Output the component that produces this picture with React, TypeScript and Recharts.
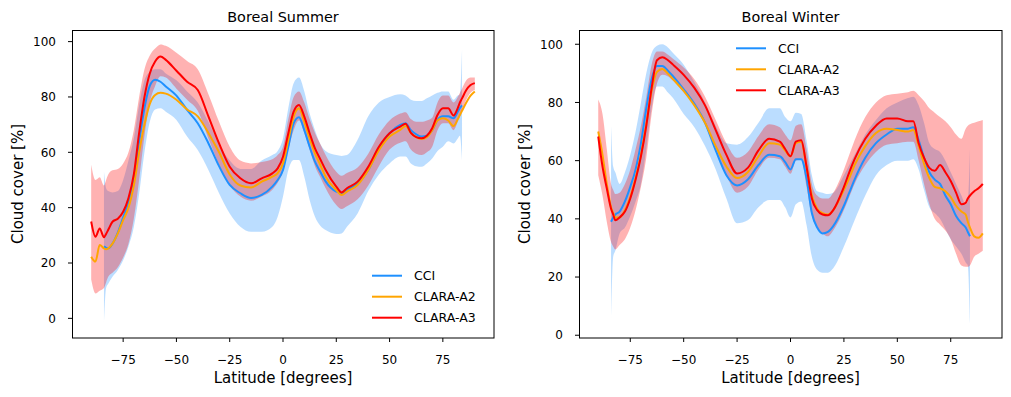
import React from 'react';
import { ComposedChart, Line, Area, XAxis, YAxis } from 'recharts';

// latitude grid shared by both panels
const LAT = [
  -90, -88, -86, -84, -83, -82, -80, -77.5, -75, -72.5,
  -70, -67.5, -65, -62.5, -60, -57.5, -55, -50, -45, -40,
  -35, -30, -25, -20, -15, -10, -5, -2.5, 0, 2.5,
  5, 7.5, 10, 12.5, 15, 17.5, 20, 25, 27.5, 30,
  35, 40, 45, 50, 55, 57.5, 60, 62.5, 65, 67.5,
  70, 72.5, 75, 77.5, 80, 82, 83, 84, 86, 88, 90,
];

// Boreal summer
const SUM_CCI = [
  null, null, null, 26, 25.5, 25.3, 27, 31, 36.5, 42,
  50, 64, 76, 84, 86.2, 85.5, 83.8, 80.5, 75.3, 70.5,
  63.3, 55, 48.2, 45.2, 43.5, 44.6, 47.6, 50, 53.6, 62,
  70.5, 72.7, 68, 62, 56.6, 53, 49.5, 45.8, 45.3, 46.4,
  48.8, 53.6, 61.4, 66.9, 69.9, 70.5, 68, 66.5, 65.7, 66,
  68, 71.7, 73, 73, 72.3, 74.7, 76, 77, null, null, null,
];
const SUM_A2 = [
  22.3, 20.5, 26.5, 25.3, 25, 25.3, 27, 30.7, 35.5, 40,
  48, 60, 70, 77.5, 80.7, 81.5, 81.2, 79, 75.5, 73,
  67, 60, 52, 48, 47.3, 49.4, 51.2, 52.5, 56, 64.4,
  72.9, 75.9, 71, 65, 59.6, 55.5, 51.2, 46.4, 44.6, 45.8,
  48.2, 53.6, 60.8, 65.7, 68.1, 69.5, 67, 65.5, 64.8, 65.5,
  68, 71.5, 72.3, 71.5, 69.5, 72, 73.5, 75, 78, 80.5, 82,
];
const SUM_A3 = [
  35, 29.5, 32.5, 29.3, 30.5, 32, 34.9, 36, 38.5, 43.5,
  52, 67, 80, 88.5, 92.8, 94.6, 93.4, 89.5, 85.5, 82.5,
  73, 63.2, 54.8, 50.6, 48.8, 50.6, 52.4, 54.2, 58.4, 66.9,
  74.7, 77.1, 72.9, 66.9, 61.4, 57.5, 53.6, 47.6, 45.5, 47,
  49.4, 54.8, 62, 66.9, 69.3, 70.3, 67, 65.5, 65.1, 66,
  68.7, 73.5, 75.9, 75.9, 73.3, 76, 78, 79.5, 82.5, 84.3, 85,
];
const SUM_CCI_LO = [
  null, null, null, -2, 11, 12.5, 15, 17.5, 21, 26,
  33, 45, 60, 71, 75.5, 75.9, 74.7, 71.7, 65.7, 60.8,
  53.6, 45.2, 37.9, 33.1, 31.3, 31.3, 33.1, 36.7, 44, 53.6,
  57.2, 57.2, 51.2, 42.8, 36.7, 33.5, 31.9, 30.5, 30.7, 33.1,
  37.9, 46, 52, 56, 58.5, 58.5, 56, 55, 54.8, 56,
  57.8, 60.5, 62, 64, 63.2, 65, 66, 57, null, null, null,
];
const SUM_CCI_HI = [
  null, null, null, 53, 47, 46, 45.5, 46, 50, 57,
  65, 77, 86, 89, 90, 90, 88.5, 86, 82, 78,
  71, 63, 57, 54, 54, 57, 59, 60.5, 65, 76,
  85, 87, 82, 74, 68, 63, 60.5, 59, 58.7, 59,
  64.5, 73, 78, 80, 81, 80.5, 79, 78.5, 78.5, 79.5,
  80.5, 81.5, 82, 82, 79, 80.5, 81, 97, null, null, null,
];
const SUM_A3_LO = [
  14, 9, 10, 11, 13, 15, 16.5, 18.5, 22, 27,
  36, 50, 66, 78, 84, 87.5, 87, 83, 79, 75,
  65, 55.5, 48, 44, 42.5, 44, 46.5, 49, 53, 61,
  68, 71.5, 67, 61, 55, 51, 47, 41, 39.5, 40.5,
  43, 48, 55, 61, 63.5, 64, 61, 59.5, 59, 60,
  62, 68, 70.5, 70.5, 68, 71, 73, 75, 79, 81.5, 82.5,
];
const SUM_A3_HI = [
  55.5, 50, 51, 48, 50, 52, 53.5, 54, 56, 60,
  68, 80, 90, 95, 97.5, 99, 98.5, 96, 93, 90,
  81, 71, 62, 57, 56, 56.5, 57.5, 59, 62, 72,
  80, 82, 78, 72, 67, 63, 59, 53, 51.5, 52.5,
  54.5, 59.5, 66.5, 71.5, 74, 74.5, 72, 71, 71, 71.5,
  72.5, 78, 80.5, 80.5, 78, 80, 81.5, 83, 86, 87, 87,
];

// Boreal winter
const WIN_CCI = [
  null, null, null, 39, 40.5, 41.5, 42.5, 46, 51, 57,
  66, 78, 88, 92.5, 92.5, 91, 89, 84.5, 79.5, 73,
  63.5, 55, 51.5, 53.5, 58.5, 62, 61.5, 59.5, 57, 60.5,
  60.5, 54, 42, 37, 35, 35.5, 37.5, 44.5, 49, 53.5,
  61, 66, 69, 71, 71, 71.5, 67, 61, 56, 53.5,
  52, 48, 45, 41, 38.5, 37, 35.5, 34, null, null, null,
];
const WIN_A2 = [
  70, 62, 52, 44, 42, 40.5, 40.5, 43, 47.5, 54,
  62, 72.5, 84, 90.5, 91.5, 90, 88, 84, 79, 73,
  65, 58, 54, 56, 61.5, 66, 65.5, 63.5, 61.5, 66,
  66.5, 58, 48, 43.5, 42, 41.5, 43, 50, 54, 58.5,
  65, 69.5, 71, 70.5, 70, 70.5, 65, 59, 54, 51,
  50.5, 49.5, 47.5, 44.5, 42.5, 41.5, 39, 37, 34, 33.5, 35,
];
const WIN_A3 = [
  68.3, 58, 50.5, 43.5, 41.5, 39.5, 40.5, 42.5, 47, 53.5,
  61.5, 72, 85, 94.5, 95.5, 94.6, 93, 89.5, 85, 79,
  70.5, 62, 55.6, 57.5, 63.5, 67.5, 66.5, 64, 61.5, 66.5,
  67, 58, 47, 43, 41.5, 41.2, 43, 51, 56, 60.5,
  67.5, 72, 74.5, 74.5, 73.5, 73.5, 66, 61, 57.5, 56.5,
  58.5, 56, 53, 49, 45, 45.5, 47, 48, 49.5, 50.5, 52,
];
const WIN_CCI_LO = [
  null, null, null, 5, 27, 29, 35, 37, 41, 46,
  52, 64, 78, 85.5, 85.5, 83.5, 81.5, 76, 71.5, 65,
  57, 47, 38.5, 39.5, 44, 46.5, 46.5, 44, 40.5, 45,
  46, 38, 27, 22.5, 21.5, 21.5, 23, 30.5, 35, 39.5,
  48, 55, 58.5, 60, 60, 60.5, 57, 50, 44, 42,
  40, 36.5, 33, 30.5, 28, 25, 24, 4, null, null, null,
];
const WIN_CCI_HI = [
  null, null, null, 72, 58, 56, 52, 56, 62, 70,
  80, 90, 97, 99.5, 100, 99, 97, 93, 87, 80,
  72, 66, 65.5, 68, 73, 78, 78, 75, 73.5, 76.5,
  76, 67, 55, 49.5, 49, 48.5, 49, 55, 58.5, 62,
  69, 74, 78, 80, 81.5, 82, 79, 73, 66, 64,
  63, 60, 56, 52, 48, 45, 46, 64, null, null, null,
];
const WIN_A3_LO = [
  55, 48, 39, 32, 30.5, 29.5, 31, 33, 37, 43,
  51, 61, 76, 86.5, 89.5, 89, 87.5, 83.5, 79, 73,
  64, 55, 49, 51, 57, 61, 60.5, 58, 55.5, 60,
  60.5, 51, 41, 37, 35, 34, 36, 43, 47.5, 52,
  58.5, 63, 65.5, 66, 66.5, 66.5, 60, 52, 45, 40,
  38, 36, 33, 28, 24, 23.5, 23.5, 24, 27, 28, 29,
];
const WIN_A3_HI = [
  81, 76, 64, 52, 50, 48.5, 49, 52, 57, 64,
  72, 82, 93, 97.5, 97.5, 96.5, 95, 92, 88, 82,
  74, 66, 61, 63, 68.5, 72.5, 71.5, 69, 67, 72,
  72.5, 64, 52, 48, 47, 47, 49, 57, 62, 67,
  75, 80, 82.5, 83, 83.5, 84, 82.5, 80.5, 78, 76.5,
  75, 73.5, 71.5, 69, 67.5, 71, 72, 72.5, 73, 73.5, 74,
];

const X_TICKS = [-75, -50, -25, 0, 25, 50, 75];
const Y_TICKS = [0, 20, 40, 60, 80, 100];

const SERIES = [
  { key: 'cci', name: 'CCI', color: '#1E90FF' },
  { key: 'a2', name: 'CLARA-A2', color: '#FFA500' },
  { key: 'a3', name: 'CLARA-A3', color: '#FF0000' },
];

const FONT = '"DejaVu Sans", sans-serif';

type Num = number | null;

function buildRows(cci: Num[], a2: Num[], a3: Num[], cciLo: Num[], cciHi: Num[], a3Lo: Num[], a3Hi: Num[]) {
  return LAT.map((lat, i) => ({
    lat,
    cci: cci[i],
    a2: a2[i],
    a3: a3[i],
    cciBand: cciLo[i] == null ? null : [cciLo[i], cciHi[i]],
    a3Band: [a3Lo[i], a3Hi[i]],
  }));
}

const summerRows = buildRows(SUM_CCI, SUM_A2, SUM_A3, SUM_CCI_LO, SUM_CCI_HI, SUM_A3_LO, SUM_A3_HI);
const winterRows = buildRows(WIN_CCI, WIN_A2, WIN_A3, WIN_CCI_LO, WIN_CCI_HI, WIN_A3_LO, WIN_A3_HI);

const fmt = (v: number) => String(v).replace('-', '\u2212');
const tickStyle = { fill: '#000', fontSize: 12, fontFamily: FONT };

function Panel({ rows, yDomain, left, width, right }: any) {
  return (
    <div style={{ position: 'absolute', left, top: 0 }}>
      <ComposedChart width={width} height={397} data={rows} margin={{ top: 30, right, bottom: 0, left: 0 }}>
        <XAxis
          dataKey="lat" type="number" domain={[-99, 99]} ticks={X_TICKS} allowDataOverflow
          height={59} tickSize={4} tickMargin={13} axisLine={false} stroke="#000"
          tick={tickStyle} tickFormatter={fmt}
        />
        <YAxis
          type="number" domain={yDomain} ticks={Y_TICKS} allowDataOverflow
          width={72} tickSize={4} tickMargin={12} axisLine={false} stroke="#000"
          tick={tickStyle} tickFormatter={fmt}
        />
        <Area dataKey="cciBand" type="monotone" fill="#1E90FF" fillOpacity={0.3} stroke="none" isAnimationActive={false} />
        <Area dataKey="a3Band" type="monotone" fill="#FF0000" fillOpacity={0.3} stroke="none" isAnimationActive={false} />
        {SERIES.map(s => (
          <Line
            key={s.key} dataKey={s.key} name={s.name} type="monotone" stroke={s.color}
            strokeWidth={2} dot={false} activeDot={false} isAnimationActive={false}
          />
        ))}
      </ComposedChart>
    </div>
  );
}

function LegendBox({ x, y }: { x: number; y: number }) {
  return (
    <g>
      {SERIES.map((s, i) => (
        <g key={s.key}>
          <line x1={x} x2={x + 30} y1={y + i * 21} y2={y + i * 21} stroke={s.color} strokeWidth={2} />
          <text x={x + 42} y={y + i * 21} dominantBaseline="central" fontSize={12.5} fontFamily={FONT} fill="#000">{s.name}</text>
        </g>
      ))}
    </g>
  );
}

export default function App() {
  return (
    <div style={{ position: 'absolute', left: 0, top: 0, width: 1011, height: 397, background: '#fff' }}>
      <Panel rows={summerRows} yDomain={[-7.1, 104.2]} left={0} width={520} right={26} />
      <Panel rows={winterRows} yDomain={[-0.95, 104.9]} left={507} width={504} right={9} />
      <svg width={1011} height={397} style={{ position: 'absolute', left: 0, top: 0, pointerEvents: 'none' }}>
        {/* axes frames */}
        <rect x={72.5} y={30.5} width={421.5} height={307.5} fill="none" stroke="#000" strokeWidth={1} />
        <rect x={579.5} y={30.5} width={422.5} height={307.5} fill="none" stroke="#000" strokeWidth={1} />
        <text x={283} y={21.5} textAnchor="middle" fontSize={14.4} fontFamily={FONT} fill="#000">Boreal Summer</text>
        <text x={790.5} y={21.5} textAnchor="middle" fontSize={14.4} fontFamily={FONT} fill="#000">Boreal Winter</text>
        <text x={283} y={383} textAnchor="middle" fontSize={15} fontFamily={FONT} fill="#000">Latitude [degrees]</text>
        <text x={790.5} y={383} textAnchor="middle" fontSize={15} fontFamily={FONT} fill="#000">Latitude [degrees]</text>
        <text transform="translate(23,184) rotate(-90)" textAnchor="middle" fontSize={15} fontFamily={FONT} fill="#000">Cloud cover [%]</text>
        <text transform="translate(530,184) rotate(-90)" textAnchor="middle" fontSize={15} fontFamily={FONT} fill="#000">Cloud cover [%]</text>
        <LegendBox x={372} y={275.7} />
        <LegendBox x={736} y={48.3} />
      </svg>
    </div>
  );
}
